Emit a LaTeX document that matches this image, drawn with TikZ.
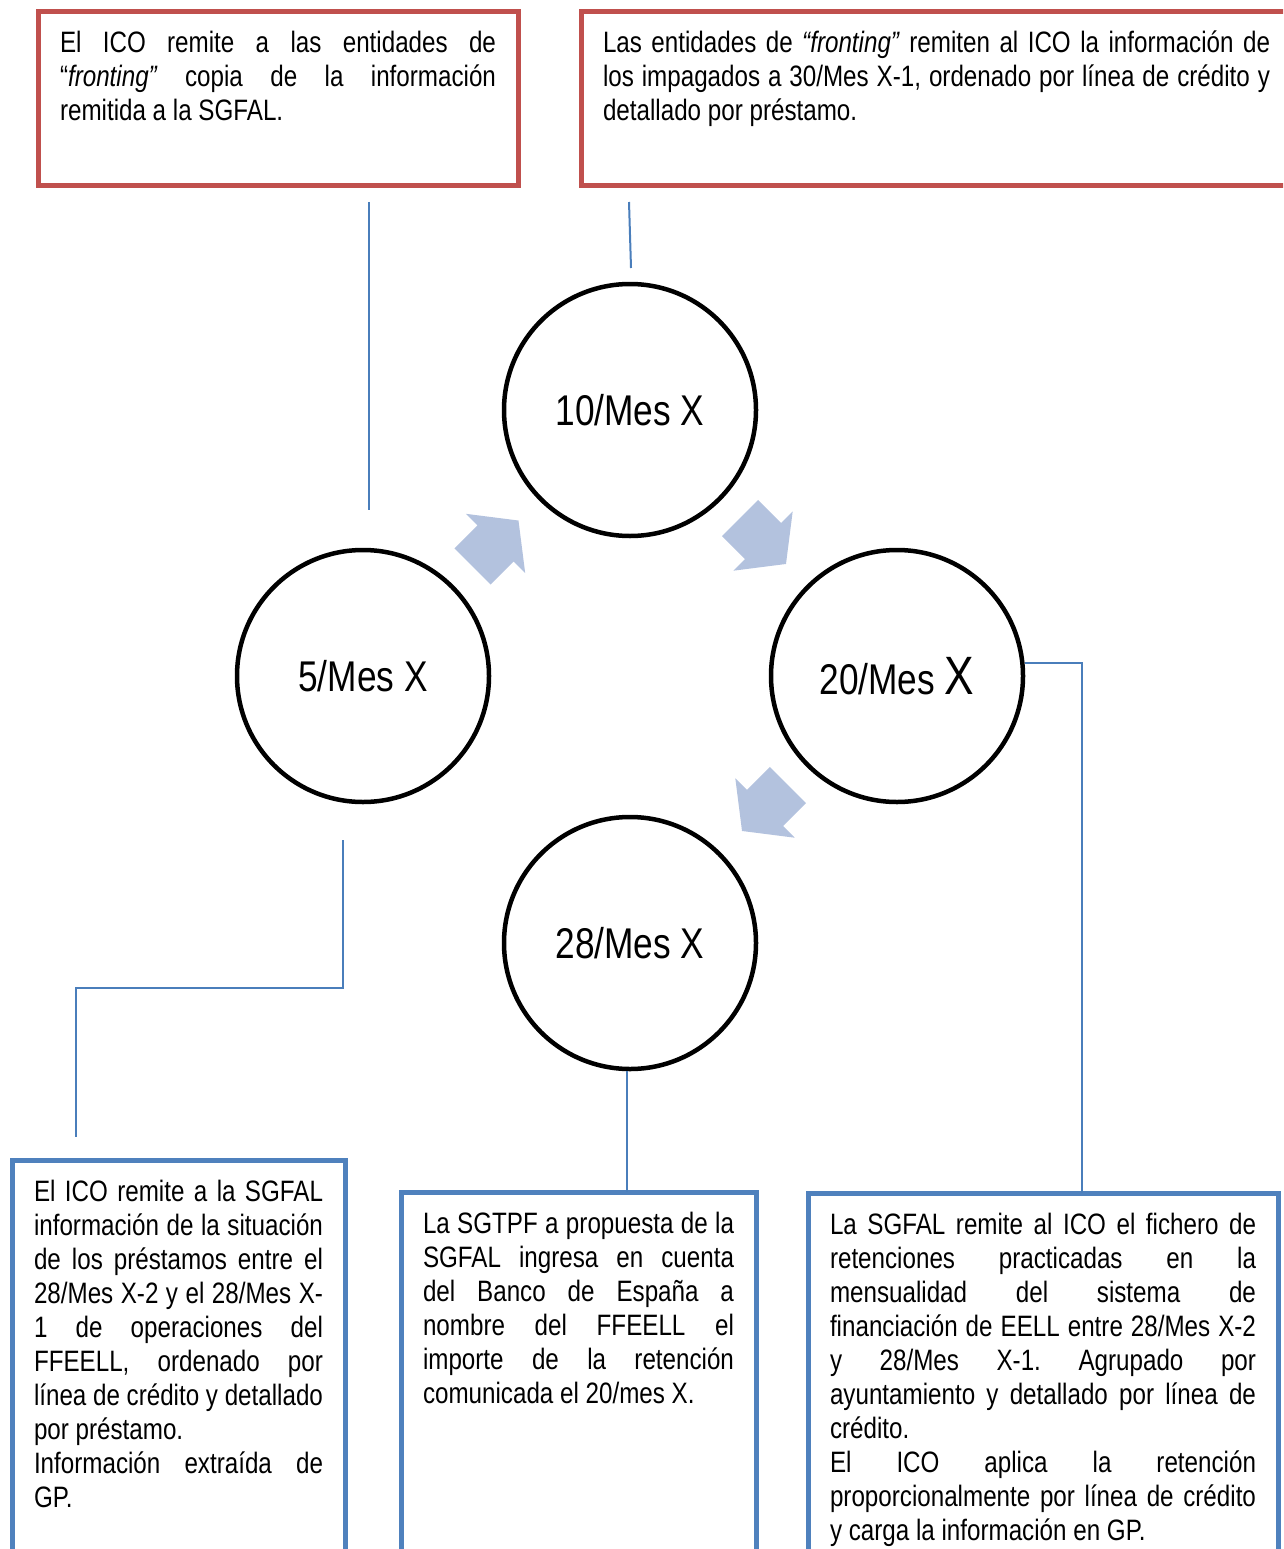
\documentclass[tikz,border=0pt]{standalone}
\usepackage{fontspec}
\setmainfont[FakeStretch=0.82]{Liberation Sans}
\definecolor{rojo}{RGB}{192,80,77}
\definecolor{azul}{RGB}{79,129,189}
\definecolor{linea}{RGB}{74,126,187}
\definecolor{flechas}{RGB}{179,194,222}
\hyphenpenalty=10000 \exhyphenpenalty=10000 \tolerance=10000 \hbadness=10000
\frenchspacing

\begin{document}
\begin{tikzpicture}[x=1pt, y=-1pt,
    dia/.style={circle, draw, line width=4.5pt, minimum size=252pt, inner sep=0pt, font=\fontsize{43}{50}\selectfont},
    nota/.style={draw, line width=5pt, outer sep=0pt, anchor=north west, inner xsep=22pt, inner ysep=14pt,
        text height=27pt, align=justify, font=\fontsize{29.5}{34}\selectfont},
    link/.style={draw=linea, line width=2pt}]
    \useasboundingbox (0,0) rectangle (1283,1549);
    \clip (0,0) rectangle (1283,1549);

    % notas de arriba
    \node[nota, draw=rojo, text width=436pt, text depth=119pt] (n5a) at (38,12)
        {El ICO remite a las entidades de\linebreak ``\textit{fronting''} copia de la información\linebreak remitida a la SGFAL.};
    \node[nota, draw=rojo, text width=667pt, text depth=119pt] (n10) at (581,12)
        {Las entidades de \textit{``fronting''} remiten al ICO la información de\linebreak los impagados a 30/Mes X-1, ordenado por línea de crédito y\linebreak detallado por préstamo.};

    % fechas
    \node[dia] (d10) at (630,410) {10/Mes X};
    \node[dia] (d5) at (363,676) {5/Mes X};
    \node[dia] (d20) at (897,676) {20/Mes {\fontsize{54}{60}\selectfont X}};
    \node[dia] (d28) at (630,943) {28/Mes X};

    \foreach \x/\y/\a in {495.5/543.5/45, 763/541/-45, 765/808/-135}
    \fill[flechas, shift={(\x,\y)}, rotate=\a] (-32.5,-25.5) -- (0,-25.5) -- (0,-42) -- (32.5,0) -- (0,42) -- (0,25.5) -- (-32.5,25.5) -- cycle;

    % notas de abajo
    \node[nota, draw=azul, text width=289pt, text depth=420pt] (n5b) at (12,1160)
        {El ICO remite a la SGFAL\linebreak información de la situación\linebreak de los préstamos entre el\linebreak 28/Mes X-2 y el 28/Mes X-\linebreak 1 de operaciones del\linebreak FFEELL, ordenado por\linebreak línea de crédito y detallado\linebreak por préstamo.\par Información extraída de\linebreak GP.};
    \node[nota, draw=azul, text width=311pt, text depth=420pt] (n28) at (401,1192)
        {La SGTPF a propuesta de la\linebreak SGFAL ingresa en cuenta\linebreak del Banco de España a\linebreak nombre del FFEELL el\linebreak importe de la retención\linebreak comunicada el 20/mes X.};
    \node[nota, draw=azul, text width=426pt, text depth=420pt] (n20) at (808,1193)
        {La SGFAL remite al ICO el fichero de\linebreak retenciones practicadas en la\linebreak mensualidad del sistema de\linebreak financiación de EELL entre 28/Mes X-2\linebreak y 28/Mes X-1. Agrupado por\linebreak ayuntamiento y detallado por línea de\linebreak crédito.\par El ICO aplica la retención\linebreak proporcionalmente por línea de crédito\linebreak y carga la información en GP.};

    % lineas
    \coordinate (a1) at (369,202);
    \coordinate (a2) at (369,510);
    \draw[link] (a1) -- (a2);
    \coordinate (b1) at (629,202);
    \coordinate (b2) at (631,268);
    \draw[link] (b1) -- (b2);
    \coordinate (c1) at (343,840);
    \coordinate (c2) at (76,1137);
    \draw[link] (c1) -- ++(0,148) -| (c2);
    \draw[link] (d20.6) -- ++(57,0) coordinate (e1) -- (e1 |- n20.north);
    \draw[link] ([xshift=-3pt]d28.south) -- ([xshift=-3pt]d28.south |- n28.north);
\end{tikzpicture}
\end{document}
